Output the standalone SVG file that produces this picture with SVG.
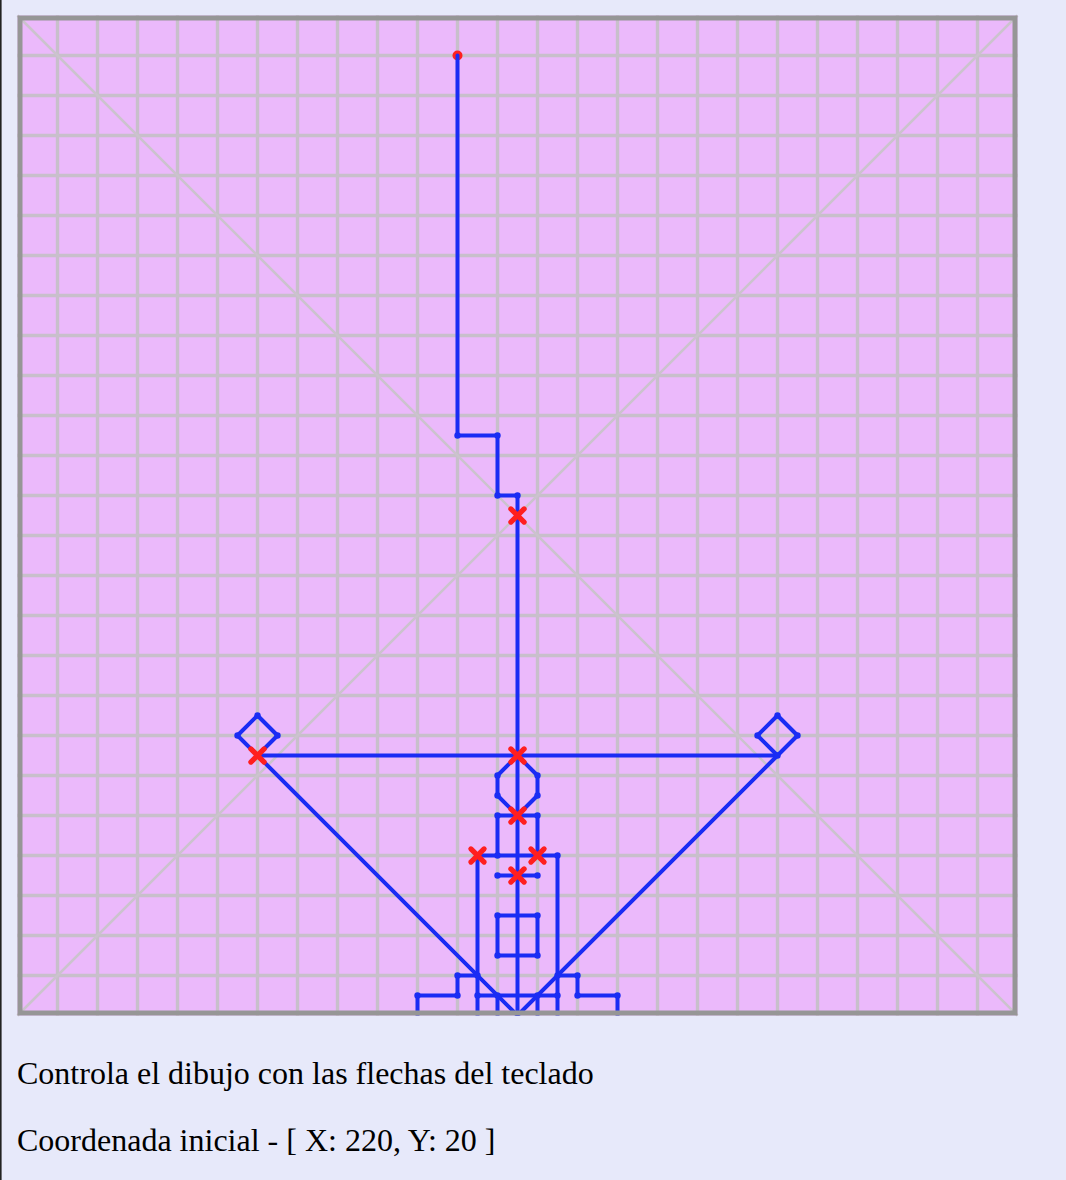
<svg xmlns="http://www.w3.org/2000/svg" width="1066" height="1180" viewBox="0 0 1066 1180">
<style>
.grid{stroke:#c8bfcb;stroke-width:1.7;fill:none}
.diag{stroke:#cbc3cd;stroke-width:1.3;fill:none}
.b{stroke:#1a2cf4;stroke-width:2;fill:none;stroke-linejoin:round;stroke-linecap:round}
.d{fill:#1a2cf4}
.x{stroke:#ff1f1f;stroke-width:2.6;stroke-linecap:round}
.t{font-family:"Liberation Serif","Times New Roman",serif;font-size:32px;fill:#000}
</style>
<defs>
<g id="xm"><line class="x" x1="-3.3" y1="-3.3" x2="3.3" y2="3.3"/><line class="x" x1="-3.3" y1="3.3" x2="3.3" y2="-3.3"/></g>
<clipPath id="cv"><rect x="0" y="0" width="500" height="500"/></clipPath>
</defs>
<rect width="1066" height="1180" fill="#e7e9fa"/>
<rect x="0" y="0" width="1.6" height="1180" fill="#222"/>
<g id="canvas" transform="translate(17.5 15.5) scale(2)">
<rect x="0" y="0" width="500" height="500" fill="#ebb9fb"/>
<g id="grid">
<path class="grid" d="M20 0V500M40 0V500M60 0V500M80 0V500M100 0V500M120 0V500M140 0V500M160 0V500M180 0V500M200 0V500M220 0V500M240 0V500M260 0V500M280 0V500M300 0V500M320 0V500M340 0V500M360 0V500M380 0V500M400 0V500M420 0V500M440 0V500M460 0V500M480 0V500"/>
<path class="grid" d="M0 20H500M0 40H500M0 60H500M0 80H500M0 100H500M0 120H500M0 140H500M0 160H500M0 180H500M0 200H500M0 220H500M0 240H500M0 260H500M0 280H500M0 300H500M0 320H500M0 340H500M0 360H500M0 380H500M0 400H500M0 420H500M0 440H500M0 460H500M0 480H500"/>
<path class="diag" d="M0 0L500 500M500 0L0 500"/>
</g>
<g id="drawing" clip-path="url(#cv)">
<g id="connectors">
<circle cx="220" cy="20" r="2.5" fill="#ff2020"/>
<polyline class="b" points="220,20 220,210 240,210 240,240 250,240 250,500"/>
<line class="b" x1="120" y1="370" x2="380" y2="370"/>
<polygon class="b" points="120,370 110,360 120,350 130,360"/>
<polygon class="b" points="380,370 370,360 380,350 390,360"/>
<line class="b" x1="120" y1="370" x2="250" y2="500"/>
<line class="b" x1="380" y1="370" x2="250" y2="500"/>
<polygon class="b" points="250,370 240,380 240,390 250,400 260,390 260,380"/>
<polyline class="b" points="240,420 240,400 260,400 260,420"/>
<line class="b" x1="230" y1="420" x2="270" y2="420"/>
<line class="b" x1="230" y1="420" x2="230" y2="500"/>
<line class="b" x1="270" y1="420" x2="270" y2="500"/>
<line class="b" x1="240" y1="430" x2="260" y2="430"/>
<rect class="b" x="240" y="450" width="20" height="20"/>
<polyline class="b" points="200,500 200,490 220,490 220,480 230,480"/>
<polyline class="b" points="270,480 280,480 280,490 300,490 300,500"/>
<line class="b" x1="230" y1="490" x2="270" y2="490"/>
<line class="b" x1="240" y1="490" x2="240" y2="500"/>
<line class="b" x1="260" y1="490" x2="260" y2="500"/>
</g>
<g id="vertices">
<circle class="d" cx="220" cy="210" r="1.6"/><circle class="d" cx="240" cy="210" r="1.6"/><circle class="d" cx="240" cy="240" r="1.6"/><circle class="d" cx="250" cy="240" r="1.6"/>
<circle class="d" cx="110" cy="360" r="1.6"/><circle class="d" cx="120" cy="350" r="1.6"/><circle class="d" cx="130" cy="360" r="1.6"/>
<circle class="d" cx="370" cy="360" r="1.6"/><circle class="d" cx="380" cy="350" r="1.6"/><circle class="d" cx="390" cy="360" r="1.6"/><circle class="d" cx="380" cy="370" r="1.6"/>
<circle class="d" cx="240" cy="380" r="1.6"/><circle class="d" cx="260" cy="380" r="1.6"/><circle class="d" cx="240" cy="390" r="1.6"/><circle class="d" cx="260" cy="390" r="1.6"/>
<circle class="d" cx="240" cy="400" r="1.6"/><circle class="d" cx="260" cy="400" r="1.6"/><circle class="d" cx="240" cy="420" r="1.6"/><circle class="d" cx="270" cy="420" r="1.6"/>
<circle class="d" cx="240" cy="430" r="1.6"/><circle class="d" cx="260" cy="430" r="1.6"/>
<circle class="d" cx="240" cy="450" r="1.6"/><circle class="d" cx="260" cy="450" r="1.6"/><circle class="d" cx="240" cy="470" r="1.6"/><circle class="d" cx="260" cy="470" r="1.6"/>
<circle class="d" cx="200" cy="490" r="1.6"/><circle class="d" cx="220" cy="490" r="1.6"/><circle class="d" cx="220" cy="480" r="1.6"/><circle class="d" cx="230" cy="480" r="1.6"/>
<circle class="d" cx="270" cy="480" r="1.6"/><circle class="d" cx="280" cy="480" r="1.6"/><circle class="d" cx="280" cy="490" r="1.6"/><circle class="d" cx="300" cy="490" r="1.6"/>
<circle class="d" cx="230" cy="490" r="1.6"/><circle class="d" cx="240" cy="490" r="1.6"/><circle class="d" cx="260" cy="490" r="1.6"/><circle class="d" cx="270" cy="490" r="1.6"/>
</g>
<g id="marks">
<use href="#xm" x="250" y="250"/>
<use href="#xm" x="250" y="370"/>
<use href="#xm" x="120" y="370"/>
<use href="#xm" x="250" y="400"/>
<use href="#xm" x="230" y="420"/>
<use href="#xm" x="260" y="420"/>
<use href="#xm" x="250" y="430"/>
</g>
</g>
<rect x="1.25" y="1.25" width="497.5" height="497.5" fill="none" stroke="#969696" stroke-width="2.5"/>
</g>
<g id="labels">
<text class="t" x="17" y="1084">Controla el dibujo con las flechas del teclado</text>
<text class="t" x="17" y="1151">Coordenada inicial - [ X: 220, Y: 20 ]</text>
</g>
</svg>
